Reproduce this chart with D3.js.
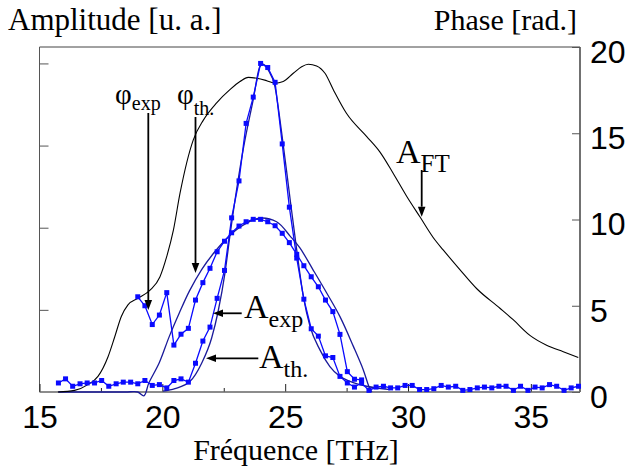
<!DOCTYPE html>
<html><head><meta charset="utf-8">
<script src="https://cdn.jsdelivr.net/npm/d3@7/dist/d3.min.js"></script>
<style>body{margin:0;background:#fff}</style></head>
<body>
<svg id="c" width="628" height="472"></svg>
<script>
// ---------- data ----------
const xTicksMajor = [15, 20, 25, 30, 35];
const xTicksMinor = [17.5, 22.5, 27.5, 32.5];
const phaseTicks = [0, 5, 10, 15, 20];
const ampTicks = [1, 2, 3, 4];

// measured frequency grid (THz) of the experimental points
const freqGrid = [15.77,16.06,16.35,16.65,16.94,17.24,17.53,17.82,18.12,18.41,
  18.71,19.00,19.29,19.59,19.88,20.18,20.47,20.76,21.06,21.35,
  21.65,21.94,22.23,22.53,22.82,23.12,23.41,23.70,24.00,24.29,
  24.59,24.88,25.17,25.47,25.76,26.06,26.35,26.64,26.94,27.23,
  27.53,27.82,28.11,28.41,28.70,29.00,29.29,29.58,29.88,30.17,
  30.47,30.76,31.05,31.35,31.64,31.94,32.23,32.52,32.82,33.11,
  33.41,33.70,33.99,34.29,34.58,34.88,35.17,35.46,35.76,36.05,
  36.35,36.64,36.94];

// A_exp (amplitude, a.u.)
const aExp = [0.11,0.16,0.07,0.10,0.11,0.11,0.14,0.07,0.10,0.12,
  0.12,0.10,0.14,0.08,0.09,0.05,0.14,0.16,0.12,0.35,
  0.62,0.79,1.14,1.48,2.12,2.57,3.27,3.59,4.00,3.95,
  3.77,3.02,2.25,1.63,1.13,0.77,0.68,0.44,0.42,0.19,
  0.11,0.06,0.11,0.02,0.06,0.07,0.05,0.05,0.08,0.08,
  0.03,0.03,0.04,0.08,0.06,0.07,0.02,0.03,0.05,0.06,
  0.05,0.07,0.07,0.02,0.07,0.02,0.06,0.05,0.09,0.07,
  0.02,0.05,0.07];

// phi_exp (rad)
const phiExpFreq = [19.00,19.29,19.59,19.88,20.18,20.47,20.76,21.06,21.35,21.65,
  21.94,22.23,22.53,22.82,23.12,23.41,23.70,24.00,24.29,24.59,
  24.88,25.17,25.47,25.76,26.06,26.35,26.64,26.94,27.23,27.53,
  27.82,28.11];
const phiExp = [5.52,5.00,3.91,4.46,5.76,2.72,3.35,3.69,5.33,6.34,
  7.17,8.13,8.74,9.23,9.62,9.87,10.01,10.01,9.87,9.64,
  9.20,8.66,7.98,7.32,6.68,6.10,5.33,4.66,3.34,1.18,
  0.74,0.70];

// A_th (amplitude)
const aThFreq = [20.03,20.51,21.13,21.60,22.01,22.27,22.55,22.75,23.29,23.70,
  23.97,24.10,24.31,24.58,24.86,25.20,25.47,25.74,26.01,26.42,
  26.82,27.23,27.64,28.32,29.27];
const aTh = [0.01,0.04,0.13,0.35,0.66,0.98,1.45,1.90,2.95,3.56,
  3.96,3.99,3.92,3.72,3.15,2.35,1.73,1.16,0.80,0.51,
  0.31,0.19,0.13,0.07,0.03];

// phi_th (rad)
const phiThFreq = [15.77,17.0,18.5,19.0,19.25,19.45,19.87,20.28,20.69,21.1,
  21.6,22.06,22.62,23.16,23.89,24.65,25.2,25.6,26.14,26.69,
  27.23,27.78,28.18,28.41,28.53];
const phiTh = [0,0,0,0,-0.22,0.52,1.68,3.21,4.58,5.85,
  7.1,8.0,8.9,9.55,10.07,9.87,9.04,8.35,7.07,5.74,
  4.37,2.63,1.28,0.31,0];

// A_FT (amplitude)
const aFtFreq = [15.75,16.43,16.97,17.38,17.79,18.06,18.33,18.60,19.01,19.50,
  19.90,20.18,20.45,20.72,21.26,21.67,22.21,22.75,23.16,23.50,
  23.84,24.25,24.58,24.92,25.33,25.67,25.94,26.28,26.62,26.96,
  27.50,28.32,28.86,29.40,29.95,30.49,31.10,31.43,32.11,32.79,
  33.74,34.28,34.96,35.64,36.32,36.93];
const aFt = [0.00,0.02,0.09,0.19,0.43,0.67,0.92,1.06,1.14,1.24,
  1.40,1.65,1.97,2.42,3.07,3.31,3.52,3.68,3.78,3.83,
  3.82,3.79,3.76,3.78,3.88,3.96,3.99,3.97,3.88,3.68,
  3.39,3.11,2.92,2.66,2.38,2.13,1.85,1.73,1.49,1.26,
  1.02,0.88,0.69,0.57,0.49,0.42];

// ---------- drawing ----------
const L = 39.5, R = 580, T = 47, B = 392;
const svg = d3.select("#c");
const x = d3.scaleLinear().domain([15, 37]).range([L, R]);
const yA = d3.scaleLinear().domain([0, 4.2]).range([B, T]);
const yP = d3.scaleLinear().domain([0, 20]).range([B, T]);

const serif = "'Liberation Serif','Times New Roman',Times,serif";
const sans = "'Liberation Sans',Arial,Helvetica,sans-serif";

// frame
svg.append("line").attr("x1", L).attr("x2", R).attr("y1", T).attr("y2", T).attr("stroke", "#444").attr("stroke-width", 1);
svg.append("line").attr("x1", L).attr("x2", L).attr("y1", T).attr("y2", B).attr("stroke", "#555").attr("stroke-width", 1);
svg.append("line").attr("x1", R).attr("x2", R).attr("y1", T).attr("y2", B).attr("stroke", "#111").attr("stroke-width", 1.2);

// bottom axis
const gx = svg.append("g").attr("transform", `translate(0,${B})`)
  .call(d3.axisBottom(x).tickValues(xTicksMajor).tickSizeInner(-8).tickSizeOuter(0).tickPadding(13).tickFormat(d3.format("d")));
gx.select(".domain").remove();
gx.selectAll("line").attr("stroke", "#222");
gx.selectAll("text").style("font-family", sans).attr("font-size", 32).attr("fill", "#000");
const gxm = svg.append("g").attr("transform", `translate(0,${B})`)
  .call(d3.axisBottom(x).tickValues(xTicksMinor).tickSizeInner(-4).tickSizeOuter(0).tickFormat(""));
gxm.select(".domain").remove();
gxm.selectAll("line").attr("stroke", "#222");

// right (phase) axis
const gy = svg.append("g").attr("transform", `translate(${R},0)`)
  .call(d3.axisRight(yP).tickValues(phaseTicks).tickSizeInner(-8).tickSizeOuter(0).tickPadding(10).tickFormat(d3.format("d")));
gy.select(".domain").remove();
gy.selectAll("line").attr("stroke", "#555");
gy.selectAll("text").style("font-family", sans).attr("font-size", 32).attr("fill", "#000").attr("dy", "0.48em");

// left (amplitude) axis, unlabeled ticks
const ga = svg.append("g").attr("transform", `translate(${L},0)`)
  .call(d3.axisLeft(yA).tickValues(ampTicks).tickSizeInner(-9).tickSizeOuter(0).tickFormat(""));
ga.select(".domain").remove();
ga.selectAll("line").attr("stroke", "#555");

// bottom axis line
svg.append("line").attr("x1", L).attr("x2", R).attr("y1", B).attr("y2", B).attr("stroke", "#666").attr("stroke-width", 1.6);

// curves
const lineA = d3.line().x(d => x(d[0])).y(d => yA(d[1]));
const lineP = d3.line().x(d => x(d[0])).y(d => yP(d[1]));
const lineAs = d3.line().x(d => x(d[0])).y(d => yA(d[1])).curve(d3.curveMonotoneX);
const linePs = d3.line().x(d => x(d[0])).y(d => yP(d[1])).curve(d3.curveCatmullRom.alpha(0.5));

const zip = (a, b) => a.map((v, i) => [v, b[i]]);
const dFt = zip(aFtFreq, aFt);
const dAth = zip(aThFreq, aTh);
const dPth = zip(phiThFreq, phiTh);
const dAexp = zip(freqGrid, aExp);
const dPexp = zip(phiExpFreq, phiExp);

const navy = "#1a1a9a";
const blue = "#0a0aff";

svg.append("path").attr("d", linePs(dPth)).attr("fill", "none").attr("stroke", navy).attr("stroke-width", 1.3);
svg.append("path").attr("d", lineAs(dAth)).attr("fill", "none").attr("stroke", navy).attr("stroke-width", 1.3);
svg.append("path").attr("d", lineAs(dFt)).attr("fill", "none").attr("stroke", "#000").attr("stroke-width", 1.1);

svg.append("path").attr("d", lineA(dAexp)).attr("fill", "none").attr("stroke", blue).attr("stroke-width", 1.3);
svg.append("path").attr("d", lineP(dPexp)).attr("fill", "none").attr("stroke", blue).attr("stroke-width", 1.3);

const ms = 5;
svg.append("g").selectAll("rect").data(dAexp).join("rect")
  .attr("x", d => x(d[0]) - ms / 2).attr("y", d => yA(d[1]) - ms / 2)
  .attr("width", ms).attr("height", ms).attr("fill", blue);
svg.append("g").selectAll("rect").data(dPexp).join("rect")
  .attr("x", d => x(d[0]) - ms / 2).attr("y", d => yP(d[1]) - ms / 2)
  .attr("width", ms).attr("height", ms).attr("fill", blue);

// axis titles
svg.append("text").attr("x", 8).attr("y", 30).style("font-family", serif).attr("font-size", 31).text("Amplitude [u. a.]");
svg.append("text").attr("x", 577).attr("y", 30).attr("text-anchor", "end").style("font-family", serif).attr("font-size", 30).text("Phase [rad.]");
svg.append("text").attr("x", 296).attr("y", 460).attr("text-anchor", "middle").style("font-family", serif).attr("font-size", 30).text("Fréquence [THz]");

// annotations
function label(px, py, main, sub, mainSize, subSize, subDy) {
  const t = svg.append("text").attr("x", px).attr("y", py).style("font-family", serif).attr("font-size", mainSize);
  t.append("tspan").text(main);
  t.append("tspan").attr("font-size", subSize).attr("dy", subDy).text(sub);
}
label(115, 104, "φ", "exp", 29, 20, 6);
label(177, 104, "φ", "th.", 29, 20, 11);
label(396, 163, "A", "FT", 34, 25, 9);
label(244, 318, "A", "exp", 34, 24, 9);
label(259, 368, "A", "th.", 34, 24, 9);

function arrow(x1, y1, x2, y2) {
  const ang = Math.atan2(y2 - y1, x2 - x1);
  const len = 10, hw = 3.8;
  const bx = x2 - len * Math.cos(ang), by = y2 - len * Math.sin(ang);
  svg.append("line").attr("x1", x1).attr("y1", y1).attr("x2", bx).attr("y2", by).attr("stroke", "#000").attr("stroke-width", 1.8);
  const px = -Math.sin(ang) * hw, py = Math.cos(ang) * hw;
  svg.append("path").attr("d", `M${x2},${y2}L${bx + px},${by + py}L${bx - px},${by - py}Z`).attr("fill", "#000");
}
arrow(148.3, 113, 148.3, 310);
arrow(195.5, 117, 195.5, 273);
arrow(421.7, 170, 421.7, 216.7);
arrow(241.7, 313.3, 213, 313.3);
arrow(258.3, 358.3, 206, 358.3);
</script>
</body></html>
